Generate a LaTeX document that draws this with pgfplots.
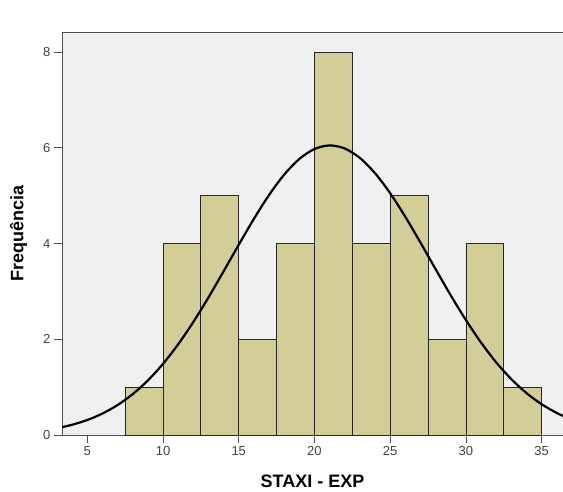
\documentclass[border=0pt]{standalone}
\usepackage{pgfplots}
\pgfplotsset{compat=1.18}
\usepackage{fontspec}
\setmainfont{Liberation Sans}
\definecolor{barfill}{RGB}{211,206,152}
\definecolor{plotbg}{RGB}{240,240,240}
\definecolor{axgray}{RGB}{80,80,80}
\begin{document}
\begin{tikzpicture}
\path[use as bounding box] (-62pt,-56pt) rectangle (501pt,435pt);
\begin{axis}[
  at={(0,0)}, anchor=south west,
  scale only axis,
  width=501pt, height=403pt,
  xmin=3.33, xmax=36.41,
  ymin=0, ymax=8.42,
  axis x line=bottom, axis y line=left,
  axis line style={axgray, thick, -},
  axis background/.style={fill=plotbg},
  xtick={5,10,...,35}, ytick={0,2,...,8},
  tick align=outside, major tick length=8pt,
  tick style={axgray, thick},
  ticklabel style={font=\fontsize{13}{15}\selectfont, text=black!75},
  /pgf/number format/assume math mode=true,
  xlabel={\bfseries STAXI - EXP},
  ylabel={\bfseries Frequência},
  label style={font=\fontsize{18}{20}\selectfont},
  xlabel style={at={(axis description cs:0.5,0)}, anchor=center, yshift=-46pt},
  ylabel style={at={(axis description cs:-0.087,0.5)}, anchor=center},
  clip=true,
]
\addplot[ybar interval, fill=barfill, draw=black!85, line width=0.8pt]
  coordinates {(7.5,1)(10,4)(12.5,5)(15,2)(17.5,4)(20,8)(22.5,4)(25,5)(27.5,2)(30,4)(32.5,1)(35,1)};
\addplot[black, line width=2.2pt, smooth, no marks] coordinates {
  (3.33,0.164)(4,0.214)(5,0.313)(6,0.448)(7,0.626)(8,0.854)(9,1.140)
  (10,1.487)(11,1.895)(12,2.361)(13,2.874)(14,3.420)(15,3.975)(16,4.516)
  (17,5.014)(18,5.440)(19,5.767)(20,5.975)(21,6.050)(22,5.986)(23,5.788)
  (24,5.469)(25,5.051)(26,4.558)(27,4.019)(28,3.464)(29,2.917)(30,2.401)
  (31,1.931)(32,1.517)(33,1.166)(34,0.875)(35,0.642)(36,0.460)(36.41,0.399)};
\draw[axgray, thick] (rel axis cs:0,1) -- (rel axis cs:1,1);
\node[font=\fontsize{13}{15}\selectfont, text=black!80] at (rel axis cs:0.62,1) [yshift=12pt] {Sexo: F};
\end{axis}
\end{tikzpicture}
\end{document}
